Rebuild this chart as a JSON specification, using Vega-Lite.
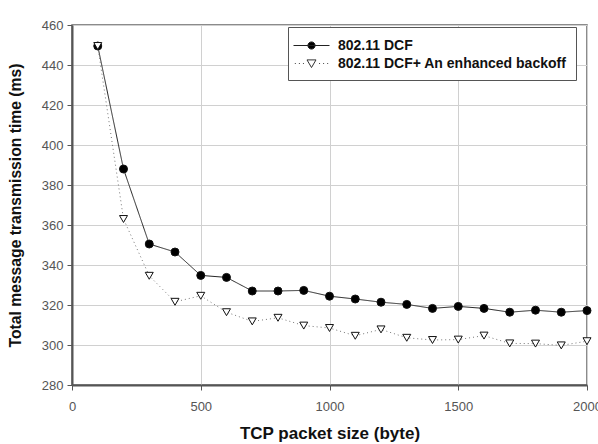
{
  "$schema": "https://vega.github.io/schema/vega-lite/v6.json",
  "width": 515,
  "height": 360,
  "autosize": "none",
  "padding": {"left": 72, "top": 25, "right": 11, "bottom": 59},
  "background": "white",
  "config": {
    "font": "Liberation Sans",
    "view": {"stroke": "#666", "strokeWidth": 1.5},
    "axis": {
      "labelFont": "Liberation Sans", "labelFontSize": 13, "labelColor": "#555",
      "titleFont": "Liberation Sans", "titleFontSize": 17, "titleFontWeight": "bold", "titleColor": "#111",
      "domainColor": "#555", "domainWidth": 2, "tickColor": "#555", "tickSize": 5,
      "gridColor": "#d0d0d0", "gridWidth": 1
    }
  },
  "data": {"values": [
    {"size": 100, "time": 449.5, "series": "802.11 DCF"},
    {"size": 200, "time": 388, "series": "802.11 DCF"},
    {"size": 300, "time": 350.5, "series": "802.11 DCF"},
    {"size": 400, "time": 346.5, "series": "802.11 DCF"},
    {"size": 500, "time": 334.8, "series": "802.11 DCF"},
    {"size": 600, "time": 333.8, "series": "802.11 DCF"},
    {"size": 700, "time": 327, "series": "802.11 DCF"},
    {"size": 800, "time": 327, "series": "802.11 DCF"},
    {"size": 900, "time": 327.3, "series": "802.11 DCF"},
    {"size": 1000, "time": 324.4, "series": "802.11 DCF"},
    {"size": 1100, "time": 323, "series": "802.11 DCF"},
    {"size": 1200, "time": 321.4, "series": "802.11 DCF"},
    {"size": 1300, "time": 320.3, "series": "802.11 DCF"},
    {"size": 1400, "time": 318.3, "series": "802.11 DCF"},
    {"size": 1500, "time": 319.3, "series": "802.11 DCF"},
    {"size": 1600, "time": 318.3, "series": "802.11 DCF"},
    {"size": 1700, "time": 316.4, "series": "802.11 DCF"},
    {"size": 1800, "time": 317.4, "series": "802.11 DCF"},
    {"size": 1900, "time": 316.4, "series": "802.11 DCF"},
    {"size": 2000, "time": 317.2, "series": "802.11 DCF"},
    {"size": 100, "time": 449.5, "series": "802.11 DCF+ An enhanced backoff"},
    {"size": 200, "time": 363, "series": "802.11 DCF+ An enhanced backoff"},
    {"size": 300, "time": 334.6, "series": "802.11 DCF+ An enhanced backoff"},
    {"size": 400, "time": 321.6, "series": "802.11 DCF+ An enhanced backoff"},
    {"size": 500, "time": 324.6, "series": "802.11 DCF+ An enhanced backoff"},
    {"size": 600, "time": 316.4, "series": "802.11 DCF+ An enhanced backoff"},
    {"size": 700, "time": 311.8, "series": "802.11 DCF+ An enhanced backoff"},
    {"size": 800, "time": 313.6, "series": "802.11 DCF+ An enhanced backoff"},
    {"size": 900, "time": 309.7, "series": "802.11 DCF+ An enhanced backoff"},
    {"size": 1000, "time": 308.5, "series": "802.11 DCF+ An enhanced backoff"},
    {"size": 1100, "time": 304.6, "series": "802.11 DCF+ An enhanced backoff"},
    {"size": 1200, "time": 307.8, "series": "802.11 DCF+ An enhanced backoff"},
    {"size": 1300, "time": 303.6, "series": "802.11 DCF+ An enhanced backoff"},
    {"size": 1400, "time": 302.5, "series": "802.11 DCF+ An enhanced backoff"},
    {"size": 1500, "time": 302.7, "series": "802.11 DCF+ An enhanced backoff"},
    {"size": 1600, "time": 304.7, "series": "802.11 DCF+ An enhanced backoff"},
    {"size": 1700, "time": 300.8, "series": "802.11 DCF+ An enhanced backoff"},
    {"size": 1800, "time": 300.7, "series": "802.11 DCF+ An enhanced backoff"},
    {"size": 1900, "time": 299.8, "series": "802.11 DCF+ An enhanced backoff"},
    {"size": 2000, "time": 301.9, "series": "802.11 DCF+ An enhanced backoff"}
  ]},
  "encoding": {
    "x": {"field": "size", "type": "quantitative", "title": "TCP packet size (byte)",
      "scale": {"domain": [0, 2000], "nice": false},
      "axis": {"values": [0, 500, 1000, 1500, 2000], "format": "d", "labelPadding": 10, "titlePadding": 12, "labelFlush": false}},
    "y": {"field": "time", "type": "quantitative", "title": "Total message transmission time (ms)",
      "scale": {"domain": [280, 460], "nice": false, "zero": false},
      "axis": {"values": [280, 300, 320, 340, 360, 380, 400, 420, 440, 460], "labelPadding": 4, "titlePadding": 18, "titleFontSize": 15.7}}
  },
  "layer": [
    {
      "mark": {"type": "line", "strokeWidth": 1},
      "encoding": {
        "detail": {"field": "series", "type": "nominal"},
        "strokeDash": {"condition": {"test": "datum.series == '802.11 DCF'", "value": [1, 0]}, "value": [1, 3]},
        "stroke": {"condition": {"test": "datum.series == '802.11 DCF'", "value": "#222"}, "value": "#777"}
      }
    },
    {
      "mark": {"type": "point", "filled": false, "stroke": "#111", "strokeWidth": 1, "opacity": 1},
      "encoding": {
        "shape": {"condition": {"test": "datum.series == '802.11 DCF'", "value": "circle"}, "value": "triangle-down"},
        "fill": {"condition": {"test": "datum.series == '802.11 DCF'", "value": "#000"}, "value": "white"},
        "size": {"value": 64}
      }
    },
    {
      "mark": {"type": "point", "filled": false, "strokeWidth": 1, "opacity": 0},
      "encoding": {
        "shape": {"field": "series", "type": "nominal",
          "scale": {"domain": ["802.11 DCF", "802.11 DCF+ An enhanced backoff"],
            "range": ["M-1.444,0H2.556M0.956,0A0.4,0.4 0 1,1 0.156,0A0.4,0.4 0 1,1 0.956,0Z", "M-1.294,0H-1.194M-0.844,0H-0.744M-0.394,0H-0.294M1.406,0H1.506M1.856,0H1.956M2.306,0H2.406M0.056,-0.4L1.056,-0.4L0.556,0.45Z"]},
          "legend": {
            "title": null, "orient": "none", "legendX": 216, "legendY": 2,
            "fillColor": "white", "strokeColor": "#555", "padding": 9,
            "symbolSize": 324, "symbolStrokeWidth": 1, "symbolOpacity": 1,
            "labelFont": "Liberation Sans", "labelFontSize": 14, "labelFontWeight": "bold", "labelColor": "#111",
            "labelOffset": 22, "rowPadding": 1, "labelLimit": 400
          }},
        "fill": {"field": "series", "type": "nominal",
          "scale": {"domain": ["802.11 DCF", "802.11 DCF+ An enhanced backoff"], "range": ["#000", "white"]}},
        "stroke": {"field": "series", "type": "nominal",
          "scale": {"domain": ["802.11 DCF", "802.11 DCF+ An enhanced backoff"], "range": ["#222", "#333"]}}
      }
    }
  ]
}
